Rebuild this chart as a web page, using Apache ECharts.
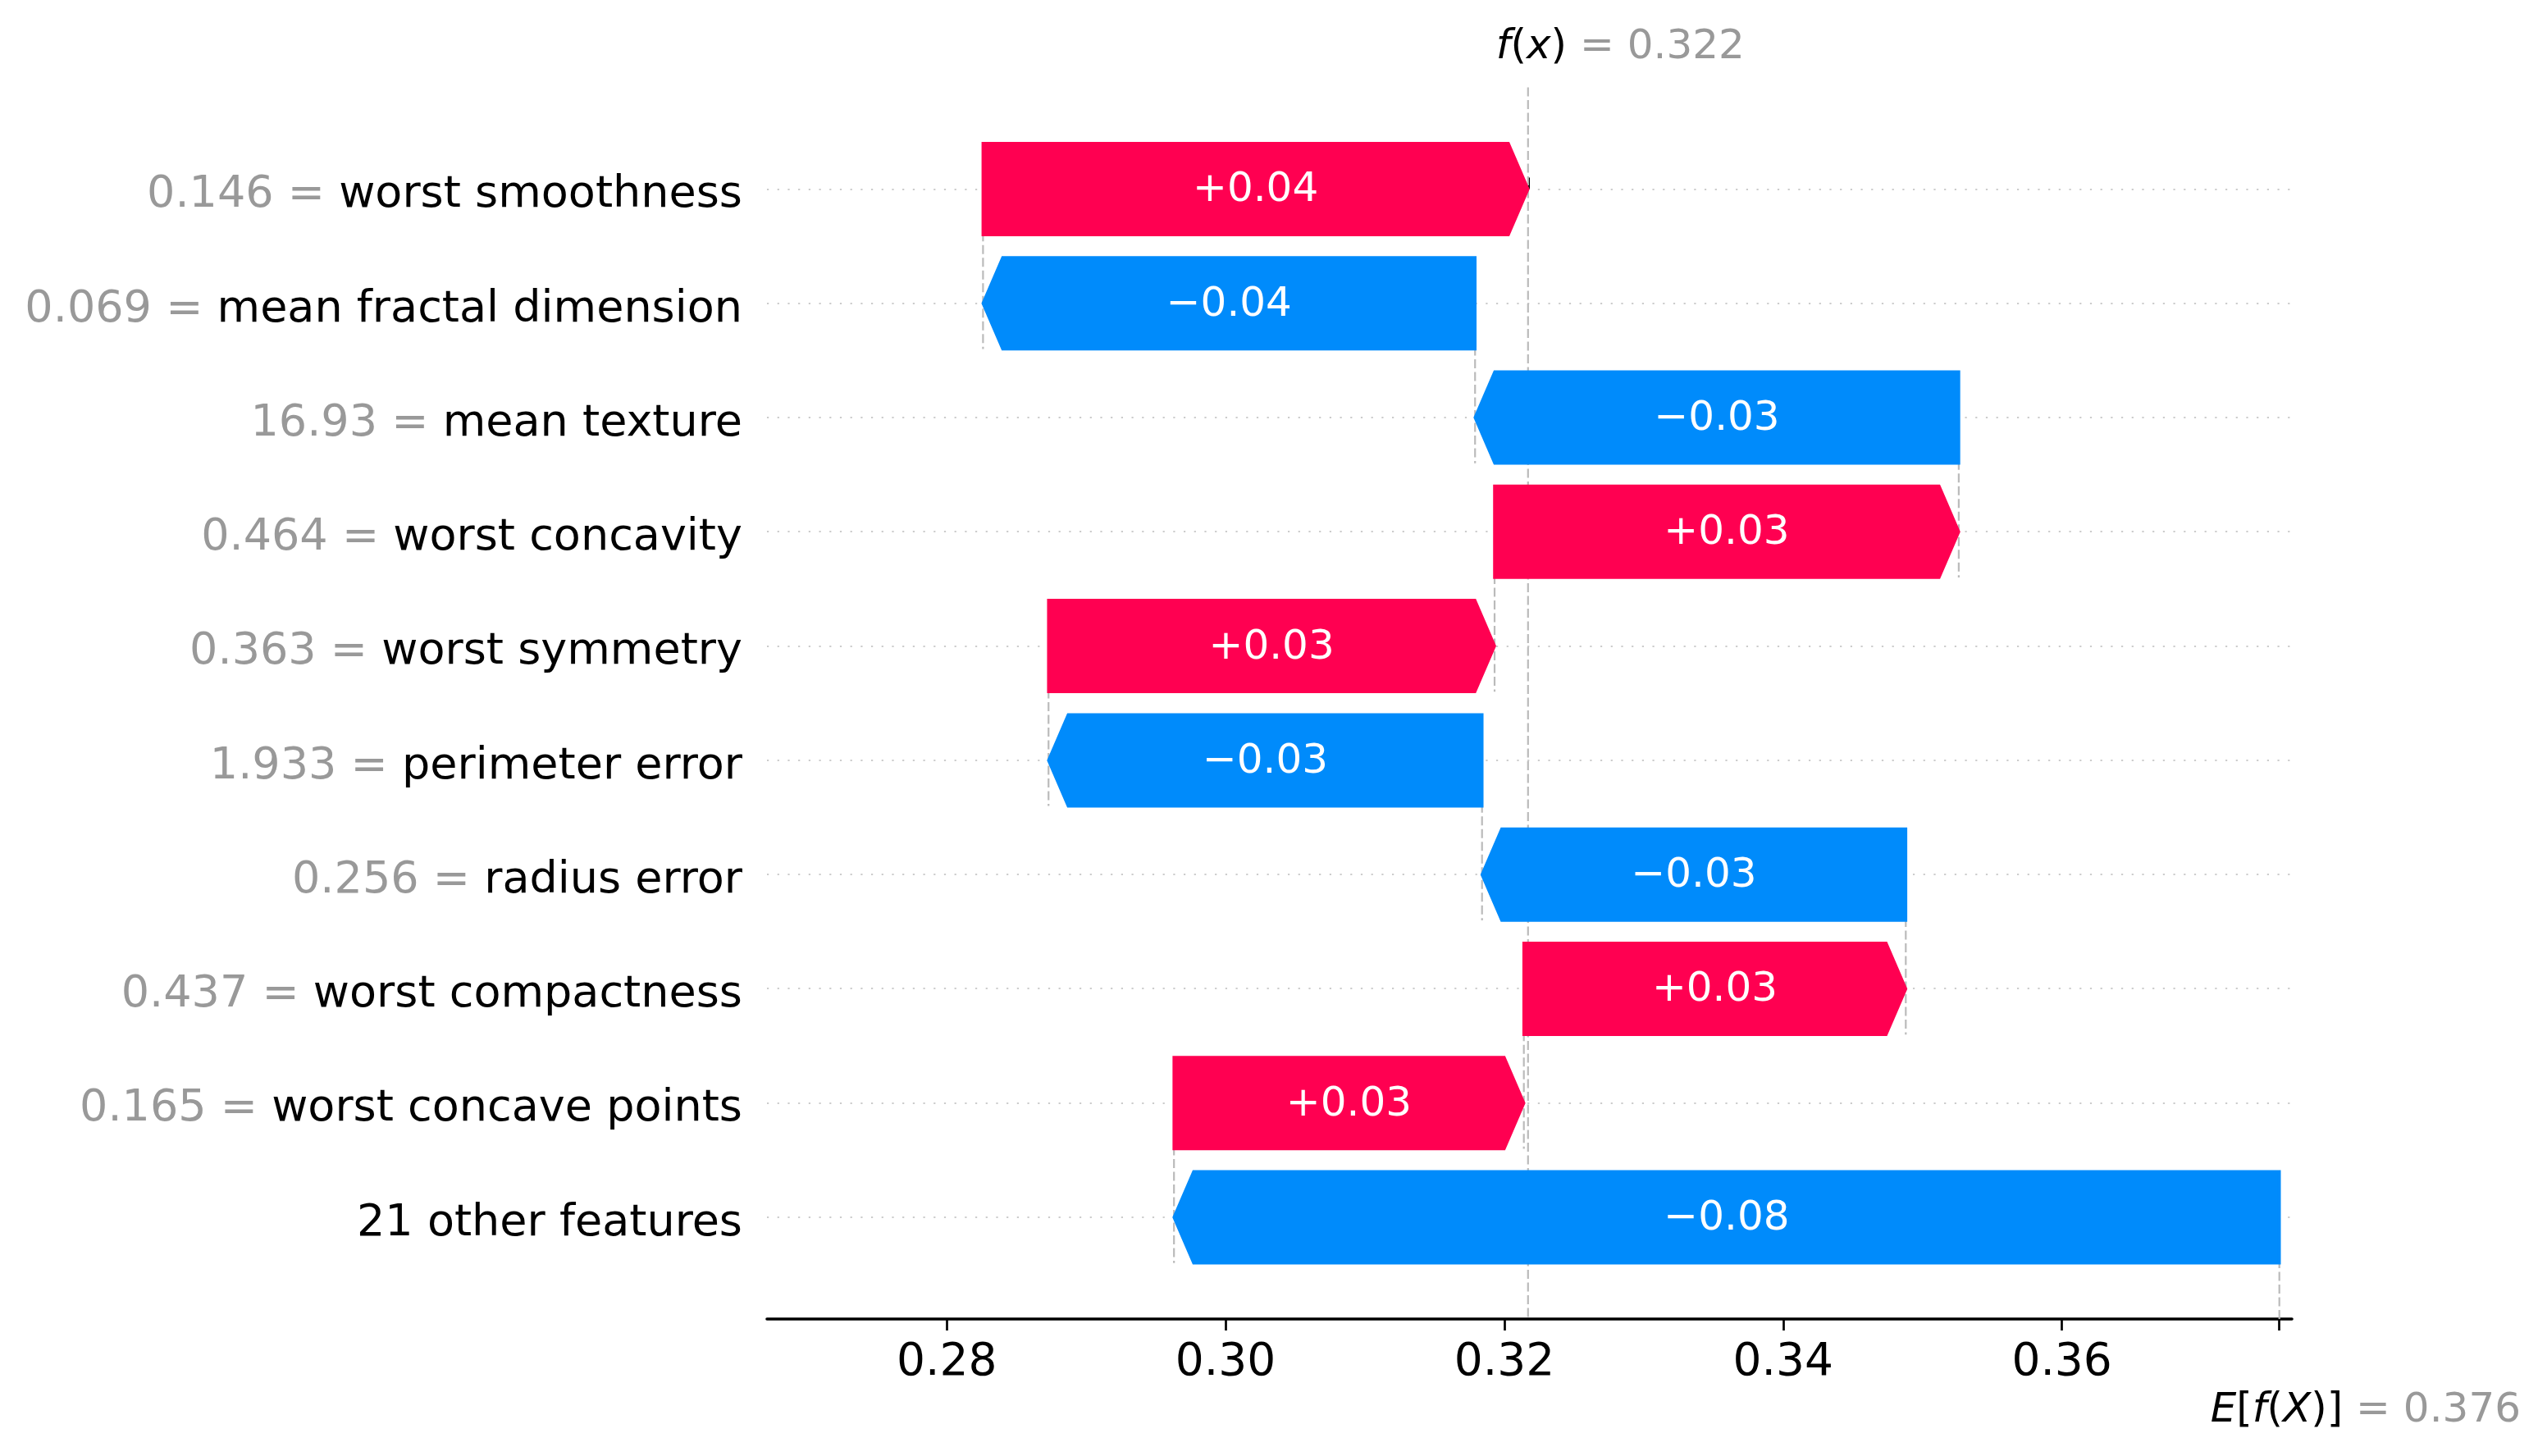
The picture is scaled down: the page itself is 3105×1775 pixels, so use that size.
<!DOCTYPE html>
<html>
<head>
<meta charset="utf-8">
<script src="https://cdn.jsdelivr.net/npm/echarts@6/dist/echarts.min.js"></script>
<style>html,body{margin:0;padding:0;background:#fff}#c{width:3105px;height:1775px}</style>
</head>
<body>
<div id="c"></div>
<script>
// ---- data (top row first) ----
const features = ['worst smoothness', 'mean fractal dimension', 'mean texture', 'worst concavity',
  'worst symmetry', 'perimeter error', 'radius error', 'worst compactness', 'worst concave points',
  '21 other features'];
const featureValues = ['0.146', '0.069', '16.93', '0.464', '0.363', '1.933', '0.256', '0.437', '0.165', null];
const shapValues = [0.0391, -0.0353, -0.0347, 0.0333, 0.0320, -0.0311, -0.0304, 0.0274, 0.0251, -0.0793];
const baseValue = 0.3756;
const xTicks = [0.28, 0.30, 0.32, 0.34, 0.36];
const xMin = 0.2671, xMax = 0.3765;

// ---- derived ----
const RED = '#ff0051', BLUE = '#008bfb';
const FONT = 'DejaVu Sans';
const nRows = features.length;
const starts = [], ends = [];
let cur = baseValue;
for (let r = nRows - 1; r >= 0; r--) { starts[r] = cur; cur += shapValues[r]; ends[r] = cur; }
const fx = cur;
const yMin = -0.89, yMax = nRows - 1 + 0.89;

function fmtShap(v) { return (v >= 0 ? '+' : '\u2212') + Math.abs(v).toFixed(2); }

const barData = features.map((f, r) => [starts[r], ends[r], r]);
const connData = [];
for (let r = 0; r < nRows - 1; r++) connData.push([starts[r], r]);

const chart = echarts.init(document.getElementById('c'), null, {renderer: 'canvas'});

const dashStyle = {stroke: '#bbbbbb', lineWidth: 2.2, lineDash: [11, 4.5]};

chart.setOption({
  animation: false,
  backgroundColor: '#ffffff',
  grid: [
    {left: 935, right: 311, top: 106.5, bottom: 167},
    {left: 935, right: 311, top: 230.3, bottom: 291.3}
  ],
  xAxis: [
    {gridIndex: 0, type: 'value', min: xMin, max: xMax, position: 'bottom',
      axisLine: {show: true, onZero: false, lineStyle: {color: '#000', width: 3.6}},
      axisTick: {show: true, length: 14, lineStyle: {color: '#000', width: 2.7}, customValues: xTicks.concat([baseValue])},
      axisLabel: {show: true, customValues: xTicks, formatter: v => Number(v).toFixed(2),
        fontSize: 55, fontFamily: FONT, color: '#000', margin: 26},
      splitLine: {show: false}},
    {gridIndex: 0, type: 'value', min: xMin, max: xMax, position: 'top',
      axisLine: {show: false},
      axisTick: {show: true, length: 14, lineStyle: {color: '#000', width: 3}, customValues: [fx]},
      axisLabel: {show: false}, splitLine: {show: false}},
    {gridIndex: 1, type: 'value', min: 0, max: 1, show: false}
  ],
  yAxis: [
    {gridIndex: 0, type: 'value', min: yMin, max: yMax, inverse: true, show: false},
    {gridIndex: 1, type: 'category', data: features, inverse: true, boundaryGap: false,
      axisLine: {show: false}, axisTick: {show: false},
      axisLabel: {interval: 0, margin: 30, padding: [16, 0, 0, 0],
        formatter: (value, index) => featureValues[index] !== null
          ? '{v|' + featureValues[index] + ' = }{n|' + value + '}'
          : '{n|' + value + '}',
        rich: {
          v: {color: '#999999', fontSize: 54, fontFamily: FONT},
          n: {color: '#000000', fontSize: 54, fontFamily: FONT}
        }},
      splitLine: {show: true, interval: 0, lineStyle: {color: '#cccccc', width: 2.2, type: [2.2, 10.5]}}}
  ],
  series: [
    {
      type: 'custom', name: 'connectors', xAxisIndex: 0, yAxisIndex: 0, z: 1, silent: true,
      data: connData,
      renderItem: (params, api) => {
        const x = api.value(0), r = api.value(1);
        const p0 = api.coord([x, r - 0.4]), p1 = api.coord([x, r + 1.4]);
        return {type: 'line', shape: {x1: p0[0], y1: p0[1], x2: p1[0], y2: p1[1]}, style: dashStyle};
      }
    },
    {
      type: 'custom', name: 'refLines', xAxisIndex: 0, yAxisIndex: 0, z: 1, silent: true,
      data: [[fx, baseValue]],
      renderItem: (params, api) => {
        const f = api.value(0), b = api.value(1);
        const a0 = api.coord([f, yMin]), a1 = api.coord([f, yMax]);
        const b0 = api.coord([b, yMax]), b1 = api.coord([b, yMax - (yMax - yMin) / nRows]);
        return {type: 'group', children: [
          {type: 'line', shape: {x1: a0[0], y1: a0[1], x2: a1[0], y2: a1[1]}, style: dashStyle},
          {type: 'line', shape: {x1: b0[0], y1: b0[1], x2: b1[0], y2: b1[1]}, style: dashStyle}
        ]};
      }
    },
    {
      type: 'custom', name: 'bars', xAxisIndex: 0, yAxisIndex: 0, z: 3, silent: true,
      data: barData,
      renderItem: (params, api) => {
        const s = api.value(0), e = api.value(1), r = api.value(2);
        const ps = api.coord([s, r]), pe = api.coord([e, r]);
        const h = api.size([0, 0.4])[1];
        const y = ps[1];
        const dir = e >= s ? 1 : -1;
        const head = Math.min(24, Math.abs(pe[0] - ps[0]));
        const hx = pe[0] - dir * head;
        const color = dir > 0 ? RED : BLUE;
        const pts = [[ps[0], y - h], [hx, y - h], [pe[0], y], [hx, y + h], [ps[0], y + h]];
        return {type: 'group', children: [
          {type: 'polygon', shape: {points: pts}, style: {fill: color, stroke: color, lineWidth: 3.6, lineJoin: 'miter'}},
          {type: 'text', style: {text: fmtShap(e - s), x: (ps[0] + pe[0]) / 2, y: y + 2,
            align: 'center', verticalAlign: 'middle', fill: '#ffffff', fontSize: 50, fontFamily: FONT}}
        ]};
      }
    },
    {
      type: 'custom', name: 'annotations', xAxisIndex: 0, yAxisIndex: 0, z: 4, silent: true,
      data: [[fx, baseValue]],
      renderItem: (params, api) => {
        const f = api.value(0), b = api.value(1);
        const top = api.coord([f, yMin]);
        const bot = api.coord([b, yMax]);
        const rich = {
          i: {fontStyle: 'italic', fontSize: 50, fontFamily: FONT, fill: '#000000'},
          u: {fontSize: 50, fontFamily: FONT, fill: '#000000'},
          g: {fontSize: 50, fontFamily: FONT, fill: '#999999'}
        };
        return {type: 'group', children: [
          {type: 'text', style: {text: '{i|f}{u|(}{i|x}{u|)}{g| = ' + f.toFixed(3) + '}',
            x: top[0] - 39, y: top[1] - 48, align: 'left', verticalAlign: 'middle', rich: rich}},
          {type: 'text', style: {text: '{i|E}{u|[}{i|f}{u|(}{i|X}{u|)]}{g| = ' + b.toFixed(3) + '}',
            x: bot[0] - 84, y: bot[1] + 112, align: 'left', verticalAlign: 'middle', rich: rich}}
        ]};
      }
    }
  ]
});
</script>
</body>
</html>
